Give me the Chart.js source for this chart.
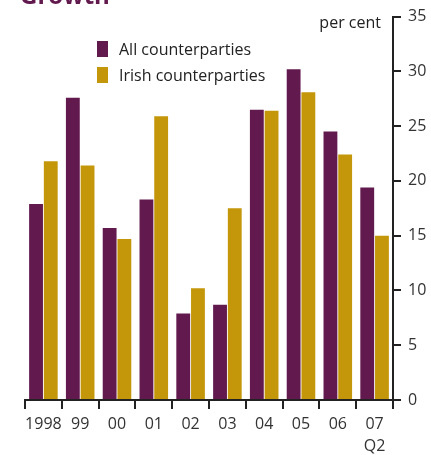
<!DOCTYPE html>
<html>
<head>
<meta charset="utf-8">
<script src="https://cdn.jsdelivr.net/npm/chart.js@4"></script>
<style>
  html, body { margin: 0; padding: 0; background: #fff; }
  #wrap { position: relative; width: 431px; height: 455px; overflow: hidden; font-family: "Open Sans", Lato, sans-serif; }
  #c { position: absolute; left: 0; top: 0; }
  .title { position: absolute; left: 20px; top: -22px; font-size: 24px; font-weight: bold; color: #62194e; }
  .unit { position: absolute; right: 50px; top: 11px; font-size: 16px; color: #222; }
  .leg { position: absolute; left: 97px; font-size: 16px; color: #222; display: flex; align-items: center; }
  .sw { width: 11px; height: 16px; margin-right: 11px; }
</style>
</head>
<body>
<div id="wrap">
  <canvas id="c" width="431" height="455"></canvas>
  <div class="title">Growth</div>
  <div class="unit">per cent</div>
  <div class="leg" style="top:38px"><span class="sw" style="background:#62194e"></span>All counterparties</div>
  <div class="leg" style="top:64px"><span class="sw" style="background:#c4960a"></span>Irish counterparties</div>
</div>
<script>
const categories = ["1998", "99", "00", "01", "02", "03", "04", "05", "06", ["07", "Q2"]];
const allCounterparties = [17.9, 27.6, 15.7, 18.3, 7.9, 8.7, 26.5, 30.2, 24.5, 19.4];
const irishCounterparties = [21.8, 21.4, 14.7, 25.9, 10.2, 17.5, 26.4, 28.1, 22.4, 15.0];
const yTicks = [0, 5, 10, 15, 20, 25, 30, 35];

const purple = "#62194e";
const gold = "#c4960a";
const axisColor = "#222222";
const fontFamily = "'Open Sans', Lato, sans-serif";

new Chart(document.getElementById("c"), {
  type: "bar",
  data: {
    labels: categories,
    datasets: [
      { label: "All counterparties", data: allCounterparties, backgroundColor: purple },
      { label: "Irish counterparties", data: irishCounterparties, backgroundColor: gold }
    ]
  },
  options: {
    responsive: false,
    animation: false,
    devicePixelRatio: 1,
    layout: { padding: { left: 25, top: 15, right: 0, bottom: 0 } },
    datasets: { bar: { categoryPercentage: 0.8, barPercentage: 0.94, borderWidth: 0 } },
    plugins: { legend: { display: false }, tooltip: { enabled: false }, title: { display: false } },
    scales: {
      x: {
        offset: true,
        grid: { offset: true, drawOnChartArea: false, drawTicks: true, tickLength: 9, color: axisColor, lineWidth: 2 },
        border: { display: true, color: axisColor, width: 2 },
        ticks: { color: "#333", padding: 4, maxRotation: 0, autoSkip: false, font: { family: fontFamily, size: 16, lineHeight: 1.4 } },
        afterFit: (s) => { s.height = 55; }
      },
      y: {
        position: "right",
        min: 0,
        max: 35,
        afterBuildTicks: (s) => { s.ticks = yTicks.map(v => ({ value: v })); },
        grid: { drawOnChartArea: false, drawTicks: true, tickLength: 8, color: axisColor, lineWidth: 2 },
        border: { display: true, color: axisColor, width: 2 },
        ticks: { color: "#333", padding: 7, font: { family: fontFamily, size: 16 } },
        afterFit: (s) => { s.width = 38; }
      }
    }
  }
});
</script>
</body>
</html>
